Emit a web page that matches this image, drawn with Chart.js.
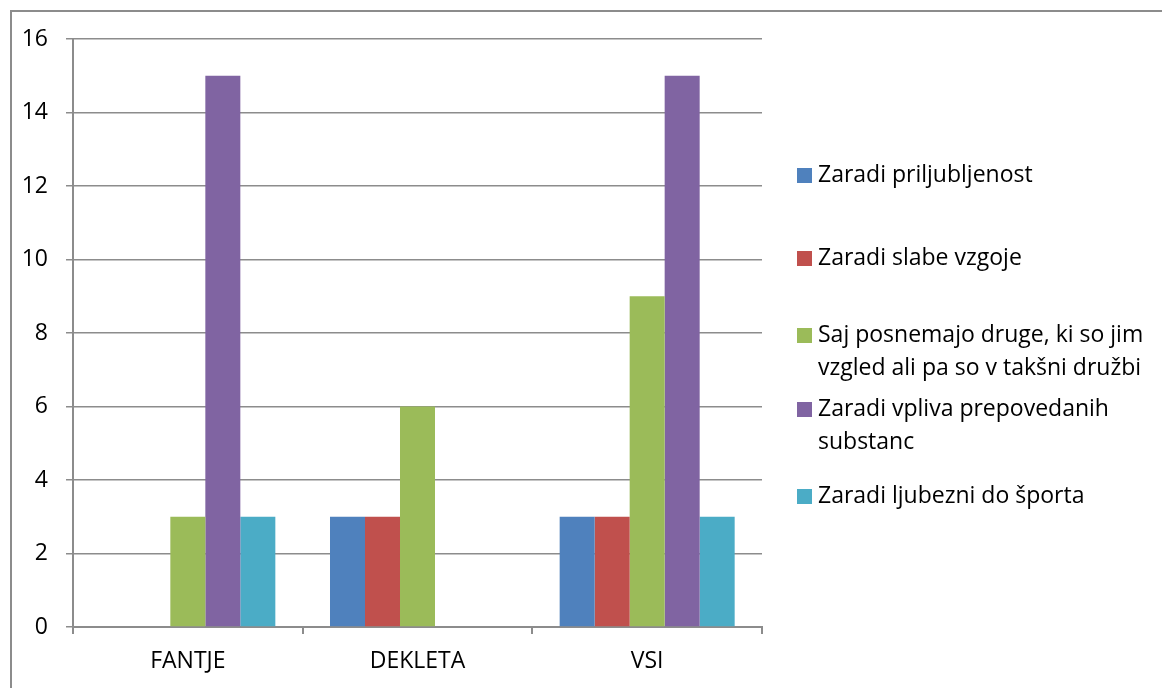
<!DOCTYPE html>
<html>
<head>
<meta charset="utf-8">
<script src="https://cdn.jsdelivr.net/npm/chart.js@4/dist/chart.umd.min.js"></script>
<style>
  html, body { margin: 0; padding: 0; background: #fff; overflow: hidden; }
  #frame { position: absolute; left: 10px; top: 10px; width: 1300px; height: 900px; border: 2px solid #8c8c8c; box-sizing: border-box; }
  #chart { position: absolute; left: 0; top: 0; }
</style>
</head>
<body>
<div id="frame"></div>
<canvas id="chart" width="1162" height="688"></canvas>
<script>
// skupine anketirancev
const categories = ['FANTJE', 'DEKLETA', 'VSI'];

// razlogi (serije) in barve
const seriesNames = [
    'Zaradi priljubljenost',
    'Zaradi slabe vzgoje',
    'Saj posnemajo druge, ki so jim vzgled ali pa so v takšni družbi',
    'Zaradi vpliva prepovedanih substanc',
    'Zaradi ljubezni do športa'
];
const seriesColors = ['#4F81BD', '#C0504D', '#9BBB59', '#8064A2', '#4BACC6'];

// vrednosti po serijah (FANTJE, DEKLETA, VSI)
const priljubljenost = [0, 3, 3];
const slabaVzgoja = [0, 3, 3];
const posnemanje = [3, 6, 9];
const substance = [15, 0, 15];
const sport = [3, 0, 3];

const yTicks = [0, 2, 4, 6, 8, 10, 12, 14, 16];

const seriesValues = [priljubljenost, slabaVzgoja, posnemanje, substance, sport];

const FONT = '"Open Sans", sans-serif';
const GRID = '#8c8c8c';

// legenda desno od grafa, z prelomom daljših besedil
const legendPlugin = {
    id: 'sideLegend',
    afterDraw(chart) {
        const ctx = chart.ctx;
        const rowY = [175, 258, 335, 409, 496];
        const lineH = 33;
        const maxW = 340;
        ctx.save();
        ctx.font = '23px ' + FONT;
        ctx.textBaseline = 'middle';
        ctx.textAlign = 'left';
        chart.data.datasets.forEach((ds, i) => {
            const words = ds.label.split(' ');
            const lines = [];
            let cur = '';
            words.forEach(w => {
                const test = cur ? cur + ' ' + w : w;
                if (ctx.measureText(test).width > maxW && cur) {
                    lines.push(cur);
                    cur = w;
                } else {
                    cur = test;
                }
            });
            lines.push(cur);
            ctx.fillStyle = ds.backgroundColor;
            ctx.fillRect(797, rowY[i] - 7, 15, 15);
            ctx.fillStyle = '#000';
            lines.forEach((l, j) => ctx.fillText(l, 818, rowY[i] + j * lineH));
        });
        ctx.restore();
    }
};

new Chart(document.getElementById('chart'), {
    type: 'bar',
    data: {
        labels: categories,
        datasets: seriesNames.map((name, i) => ({
            label: name,
            data: seriesValues[i],
            backgroundColor: seriesColors[i],
            borderWidth: 0,
            categoryPercentage: 0.762,
            barPercentage: 1
        }))
    },
    options: {
        responsive: false,
        animation: false,
        layout: { padding: { top: 39, right: 400, left: 0, bottom: 0 } },
        plugins: {
            legend: { display: false },
            tooltip: { enabled: false }
        },
        scales: {
            x: {
                grid: { display: true, drawOnChartArea: false, color: GRID, lineWidth: 2, tickLength: 7, offset: true },
                border: { color: GRID, width: 2 },
                ticks: { color: '#000', font: { family: FONT, size: 23 }, padding: 14 },
                afterFit(scale) { scale.height = 61; }
            },
            y: {
                min: 0,
                max: 16,
                afterBuildTicks(scale) { scale.ticks = yTicks.map(v => ({ value: v })); },
                grid: { color: GRID, lineWidth: 1.5, tickLength: 7 },
                border: { color: GRID, width: 2 },
                ticks: { color: '#000', font: { family: FONT, size: 23 }, padding: 18 },
                afterFit(scale) { scale.width = 73; }
            }
        }
    },
    plugins: [legendPlugin]
});
</script>
</body>
</html>
